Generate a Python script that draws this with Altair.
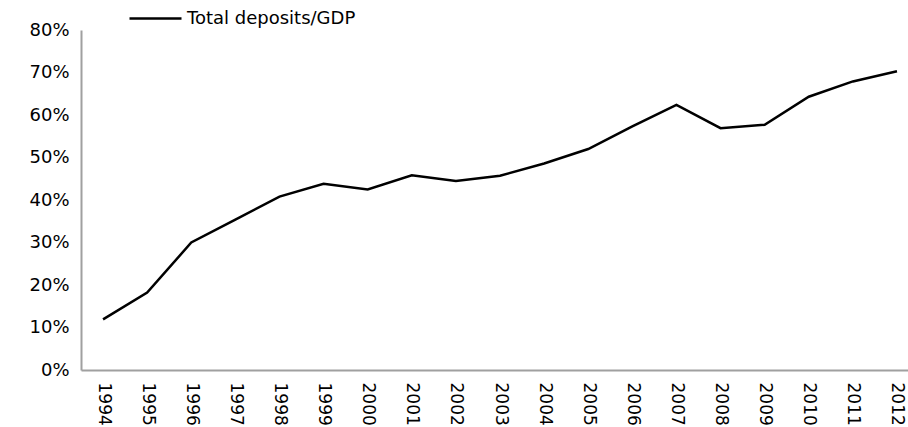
import altair as alt
import pandas as pd

years = list(range(1994, 2013))
values = [11.9, 18.2, 30.0, 35.4, 40.8, 43.8, 42.5, 45.8, 44.5, 45.7,
          48.6, 52.0, 57.3, 62.4, 56.9, 57.7, 64.3, 67.9, 70.3]
series_name = "Total deposits/GDP"

df = pd.DataFrame({
    "year": years,
    "value": [v / 100 for v in values],
    "series": [series_name] * len(years),
})

FONT = "DejaVu Sans"
FS = 18

chart = alt.Chart(df).mark_line(strokeWidth=2.5).encode(
    x=alt.X("year:Q",
            scale=alt.Scale(domain=[1993.5, 2012.25], nice=False, zero=False),
            axis=alt.Axis(values=years, format="d", labelAngle=90, labelAlign="left",
                          labelBaseline="middle", ticks=False, grid=False,
                          domainColor="#A0A0A0", domainWidth=2, labelPadding=12,
                          labelFontSize=17, labelFont=FONT, labelColor="black",
                          title=None, labelOverlap=False, labelFlush=False)),
    y=alt.Y("value:Q",
            scale=alt.Scale(domain=[0, 0.8], nice=False),
            axis=alt.Axis(values=[0, 0.1, 0.2, 0.3, 0.4, 0.5, 0.6, 0.7, 0.8],
                          format=".0%", ticks=False, grid=False,
                          domainColor="#A0A0A0", domainWidth=2, labelPadding=12,
                          labelFontSize=FS, labelFont=FONT, labelColor="black",
                          title=None, labelFlush=False)),
    color=alt.Color("series:N",
                    scale=alt.Scale(range=["black"]),
                    legend=alt.Legend(orient="none", legendX=47, legendY=-39,
                                      title=None, symbolType="stroke",
                                      symbolSize=2704, symbolStrokeWidth=2.5,
                                      labelFontSize=FS, labelFont=FONT,
                                      labelColor="black", labelOffset=4,
                                      labelLimit=0, padding=0)),
).properties(
    width=827,
    height=340,
    background="white",
    autosize=alt.AutoSizeParams(type="none"),
    padding={"left": 81, "top": 30, "right": 0, "bottom": 57},
).configure_view(stroke=None)

chart.save("out.html", embed_options={"renderer": "svg", "actions": False})
